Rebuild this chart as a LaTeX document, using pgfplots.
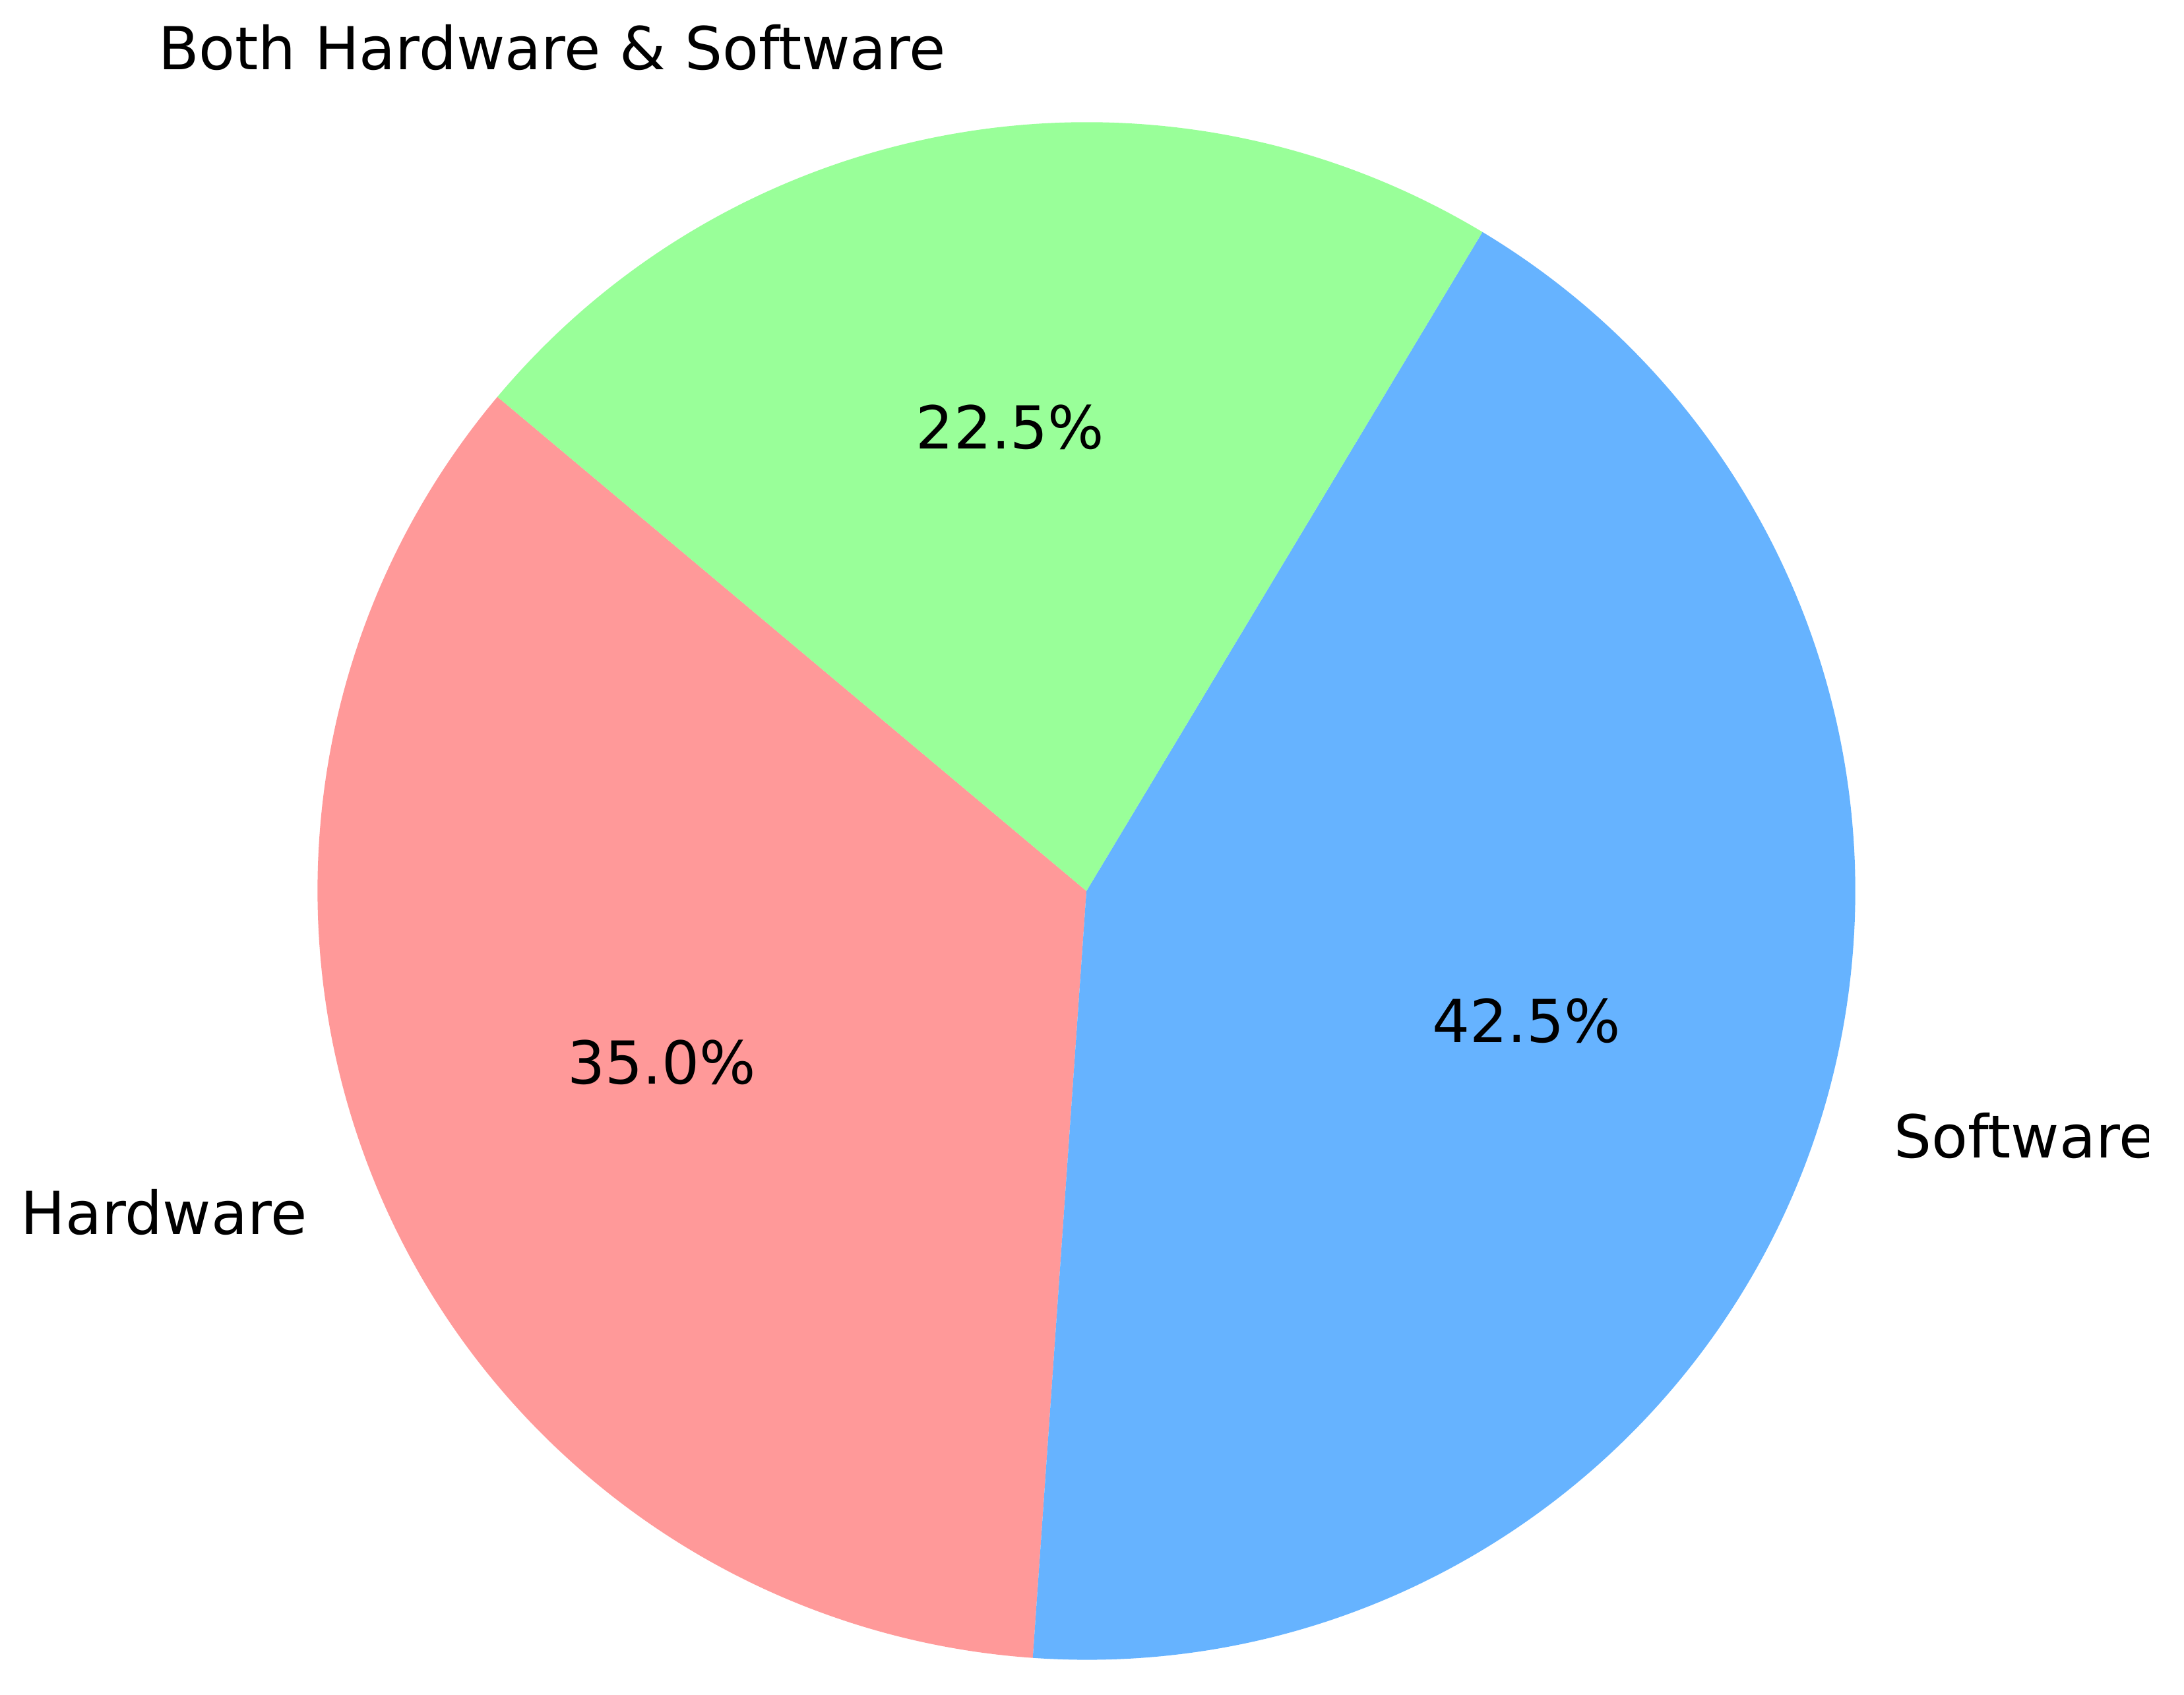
\documentclass[border=0pt]{standalone}
\usepackage{pgfplots}
\pgfplotsset{compat=1.18}
\usepackage{pgfplotstable}
\usepackage{fontspec}
\setmainfont{DejaVu Sans}

\definecolor{hwred}{HTML}{FF9999}
\definecolor{swblue}{HTML}{66B3FF}
\definecolor{bothgreen}{HTML}{99FF99}

% shares in percent, in the order they are drawn (counter-clockwise from 140 deg)
\pgfplotstableread{
share
35.0
42.5
22.5
}\piedata

\begin{document}
\begin{tikzpicture}[font=\fontsize{12.1}{14}\selectfont,
    lbl/.style={inner sep=0pt, text height=0.76em, text depth=0.236em}]
\pgfplotstablegetelem{0}{share}\of\piedata \let\sA\pgfplotsretval
\pgfplotstablegetelem{1}{share}\of\piedata \let\sB\pgfplotsretval
\pgfplotstablegetelem{2}{share}\of\piedata \let\sC\pgfplotsretval
\pgfmathsetmacro{\aA}{140}
\pgfmathsetmacro{\aB}{\aA+3.6*\sA}
\pgfmathsetmacro{\aC}{\aB+3.6*\sB}
\pgfmathsetmacro{\aD}{\aC+3.6*\sC}
\pgfmathsetmacro{\mA}{(\aA+\aB)/2}
\pgfmathsetmacro{\mB}{(\aB+\aC)/2}
\pgfmathsetmacro{\mC}{(\aC+\aD)/2}
\begin{axis}[
    hide axis,
    x=5.52cm, y=5.52cm,
    xmin=-1.413, xmax=1.4275,
    ymin=-1.045, ymax=1.159,
    clip=false,
    /pgf/number format/assume math mode=true,
]
\fill[hwred] (0,0) -- ({cos(\aA)},{sin(\aA)}) arc[start angle=\aA, end angle=\aB, radius=5.52cm] -- cycle;
\fill[swblue] (0,0) -- ({cos(\aB)},{sin(\aB)}) arc[start angle=\aB, end angle=\aC, radius=5.52cm] -- cycle;
\fill[bothgreen] (0,0) -- ({cos(\aC)},{sin(\aC)}) arc[start angle=\aC, end angle=\aD, radius=5.52cm] -- cycle;

\node[lbl, anchor=east] at ({1.1*cos(\mA)},{1.1*sin(\mA)}) {Hardware};
\node[lbl, anchor=west] at ({1.1*cos(\mB)},{1.1*sin(\mB)}) {Software};
\node[lbl, anchor=east] at ({1.1*cos(\mC)},{1.1*sin(\mC)}) {Both Hardware \& Software};

\node[lbl] at ({0.6*cos(\mA)},{0.6*sin(\mA)}) {\pgfmathprintnumber[fixed,precision=1,fixed zerofill]{\sA}\%};
\node[lbl] at ({0.6*cos(\mB)},{0.6*sin(\mB)}) {\pgfmathprintnumber[fixed,precision=1,fixed zerofill]{\sB}\%};
\node[lbl] at ({0.6*cos(\mC)},{0.6*sin(\mC)}) {\pgfmathprintnumber[fixed,precision=1,fixed zerofill]{\sC}\%};
\end{axis}
% the original figure cut the last letter of the right-hand label
\fill[white] ([xshift=-0.25cm]current axis.north east) rectangle ([xshift=1cm]current axis.south east);
\pgfresetboundingbox
\path[use as bounding box] (current axis.south west) rectangle (current axis.north east);
\end{tikzpicture}
\end{document}
